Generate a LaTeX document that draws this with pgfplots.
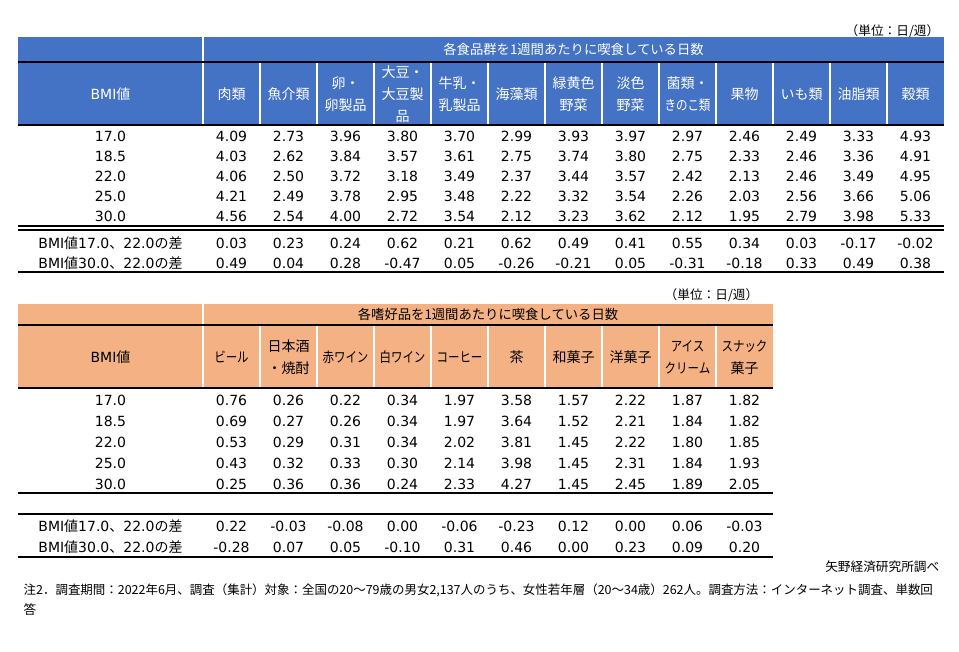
\documentclass[border=0pt]{standalone}
\usepackage{fontspec}
\setmainfont{DejaVu Sans}
\newfontfamily\jp{Noto Sans CJK JP}
\usepackage{pgfplots}
\usepackage{pgfplotstable}
\pgfplotsset{compat=1.18}

\definecolor{hdrblue}{HTML}{4472C4}
\definecolor{hdrorange}{HTML}{F4B183}

% food groups: days per week by BMI
\pgfplotstableread{
bmi  c1   c2   c3   c4   c5   c6   c7   c8   c9   c10  c11  c12  c13
17.0 4.09 2.73 3.96 3.80 3.70 2.99 3.93 3.97 2.97 2.46 2.49 3.33 4.93
18.5 4.03 2.62 3.84 3.57 3.61 2.75 3.74 3.80 2.75 2.33 2.46 3.36 4.91
22.0 4.06 2.50 3.72 3.18 3.49 2.37 3.44 3.57 2.42 2.13 2.46 3.49 4.95
25.0 4.21 2.49 3.78 2.95 3.48 2.22 3.32 3.54 2.26 2.03 2.56 3.66 5.06
30.0 4.56 2.54 4.00 2.72 3.54 2.12 3.23 3.62 2.12 1.95 2.79 3.98 5.33
}\foodtab
\pgfplotstableread{
c1   c2   c3   c4    c5   c6    c7    c8   c9    c10   c11  c12   c13
0.03 0.23 0.24 0.62  0.21 0.62  0.49  0.41 0.55  0.34  0.03 -0.17 -0.02
0.49 0.04 0.28 -0.47 0.05 -0.26 -0.21 0.05 -0.31 -0.18 0.33 0.49  0.38
}\fooddiff

% luxury items
\pgfplotstableread{
bmi  c1   c2   c3   c4   c5   c6   c7   c8   c9   c10
17.0 0.76 0.26 0.22 0.34 1.97 3.58 1.57 2.22 1.87 1.82
18.5 0.69 0.27 0.26 0.34 1.97 3.64 1.52 2.21 1.84 1.82
22.0 0.53 0.29 0.31 0.34 2.02 3.81 1.45 2.22 1.80 1.85
25.0 0.43 0.32 0.33 0.30 2.14 3.98 1.45 2.31 1.84 1.93
30.0 0.25 0.36 0.36 0.24 2.33 4.27 1.45 2.45 1.89 2.05
}\snacktab
\pgfplotstableread{
c1    c2    c3    c4    c5    c6    c7   c8   c9   c10
0.22  -0.03 -0.08 0.00  -0.06 -0.23 0.12 0.00 0.06 -0.03
-0.28 0.07  0.05  -0.10 0.31  0.46  0.00 0.23 0.09 0.20
}\snackdiff

\pgfplotsset{
  cellvals/.style={only marks, mark=*, mark size=0pt,
    mark options={draw=none, fill=none},
    nodes near coords, point meta=explicit symbolic,
    nodes near coords align=center,
    every node near coord/.append style={font=\fontsize{10.5}{12}\selectfont,
      text=black, inner sep=0pt}},
}
\newcommand{\hfont}{\jp\fontsize{10.5}{16.5}\selectfont}
\newcommand{\sfont}{\jp\fontsize{9.5}{12}\selectfont}
\newcommand{\nk}[1]{\scalebox{0.82}[1]{#1}}
\newcommand{\difflab}[2]{BMI{\jp 値}#1{\jp 、}#2{\jp の差}}

\begin{document}
\begin{tikzpicture}
\begin{axis}[scale only axis, width=719.25pt, height=488.25pt,
  xmin=0, xmax=959, ymin=0, ymax=651, y dir=reverse,
  hide axis, clip=false]
\path (0,0) rectangle (959,651);

% ---------- table 1 ----------
\node[anchor=east, font=\sfont] at (944,31) {（単位：日/週）};
\fill[hdrblue] (18,37) rectangle (944,125);
\draw[white, line width=1pt] (203,37) -- (203,125);
\pgfplotsinvokeforeach{1,...,12}{\draw[white, line width=1pt] ({203+57*#1},62) -- ({203+57*#1},125);}
\draw[black, line width=1pt] (18,62) -- (944,62);
\draw[black, line width=1pt] (18,125) -- (944,125);
\node[font=\jp\fontsize{10}{12}\selectfont, text=white] at (573.5,49.5) {各食品群を1週間あたりに喫食している日数};
\node[font=\fontsize{10.5}{12}\selectfont, text=white] at (110.5,94) {BMI{\jp 値}};
\node[font=\hfont, text=white, align=center] at (231.5,94) {肉類};
\node[font=\hfont, text=white, align=center] at (288.5,94) {魚介類};
\node[font=\hfont, text=white, align=center] at (345.5,94) {卵・\\卵製品};
\node[font=\hfont, text=white, align=center] at (402.5,94) {大豆・\\大豆製\\品};
\node[font=\hfont, text=white, align=center] at (459.5,94) {牛乳・\\乳製品};
\node[font=\hfont, text=white, align=center] at (516.5,94) {海藻類};
\node[font=\hfont, text=white, align=center] at (573.5,94) {緑黄色\\野菜};
\node[font=\hfont, text=white, align=center] at (630.5,94) {淡色\\野菜};
\node[font=\hfont, text=white, align=center] at (687.5,94) {菌類・\\\nk{きのこ類}};
\node[font=\hfont, text=white, align=center] at (744.5,94) {果物};
\node[font=\hfont, text=white, align=center] at (801.5,94) {いも類};
\node[font=\hfont, text=white, align=center] at (858.5,94) {油脂類};
\node[font=\hfont, text=white, align=center] at (915.5,94) {穀類};

\addplot[cellvals] table[x expr=110.5, y expr={136+20*\coordindex}, meta=bmi] {\foodtab};
\pgfplotsinvokeforeach{1,...,13}{
  \addplot[cellvals] table[x expr={203+57*(#1-0.5)}, y expr={136+20*\coordindex}, meta=c#1] {\foodtab};
  \addplot[cellvals] table[x expr={203+57*(#1-0.5)}, y expr={243+20*\coordindex}, meta=c#1] {\fooddiff};
}
\draw[black, line width=0.8pt] (18,226) -- (944,226);
\draw[black, line width=0.8pt] (18,230) -- (944,230);
\node[font=\fontsize{10.5}{12}\selectfont] at (110.5,243) {\difflab{17.0}{22.0}};
\node[font=\fontsize{10.5}{12}\selectfont] at (110.5,263) {\difflab{30.0}{22.0}};
\draw[black, line width=1pt] (18,272) -- (944,272);

% ---------- table 2 ----------
\node[anchor=east, font=\sfont] at (763,295) {（単位：日/週）};
\fill[hdrorange] (18,304) rectangle (773,388);
\draw[white, line width=1pt] (203,304) -- (203,388);
\pgfplotsinvokeforeach{1,...,9}{\draw[white, line width=1pt] ({203+57*#1},325) -- ({203+57*#1},388);}
\draw[black, line width=1pt] (18,325) -- (773,325);
\draw[black, line width=1pt] (18,388) -- (773,388);
\node[font=\jp\fontsize{10}{12}\selectfont] at (488,314.5) {各嗜好品を1週間あたりに喫食している日数};
\node[font=\fontsize{10.5}{12}\selectfont] at (110.5,357) {BMI{\jp 値}};
\node[font=\hfont, align=center] at (231.5,357) {\nk{ビール}};
\node[font=\hfont, align=center] at (288.5,357) {日本酒\\・焼酎};
\node[font=\hfont, align=center] at (345.5,357) {\nk{赤ワイン}};
\node[font=\hfont, align=center] at (402.5,357) {\nk{白ワイン}};
\node[font=\hfont, align=center] at (459.5,357) {\nk{コーヒー}};
\node[font=\hfont, align=center] at (516.5,357) {茶};
\node[font=\hfont, align=center] at (573.5,357) {和菓子};
\node[font=\hfont, align=center] at (630.5,357) {洋菓子};
\node[font=\hfont, align=center] at (687.5,357) {\nk{アイス}\\\nk{クリーム}};
\node[font=\hfont, align=center] at (744.5,357) {\nk{スナック}\\菓子};

\addplot[cellvals] table[x expr=110.5, y expr={400+21*\coordindex}, meta=bmi] {\snacktab};
\pgfplotsinvokeforeach{1,...,10}{
  \addplot[cellvals] table[x expr={203+57*(#1-0.5)}, y expr={400+21*\coordindex}, meta=c#1] {\snacktab};
  \addplot[cellvals] table[x expr={203+57*(#1-0.5)}, y expr={526+21*\coordindex}, meta=c#1] {\snackdiff};
}
\draw[black, line width=1pt] (18,493) -- (773,493);
\draw[black, line width=1pt] (18,514) -- (773,514);
\node[font=\fontsize{10.5}{12}\selectfont] at (110.5,526) {\difflab{17.0}{22.0}};
\node[font=\fontsize{10.5}{12}\selectfont] at (110.5,547) {\difflab{30.0}{22.0}};
\draw[black, line width=1pt] (18,557) -- (773,557);

% ---------- source and note ----------
\node[anchor=east, font=\sfont] at (944,567) {矢野経済研究所調べ};
\node[anchor=west, font=\jp\fontsize{9.35}{12}\selectfont] at (19,590) {注2．調査期間：2022年6月、調査（集計）対象：全国の20～79歳の男女2,137人のうち、女性若年層（20～34歳）262人。調査方法：インターネット調査、単数回};
\node[anchor=west, font=\sfont] at (19,610) {答};
\end{axis}
\end{tikzpicture}
\end{document}
